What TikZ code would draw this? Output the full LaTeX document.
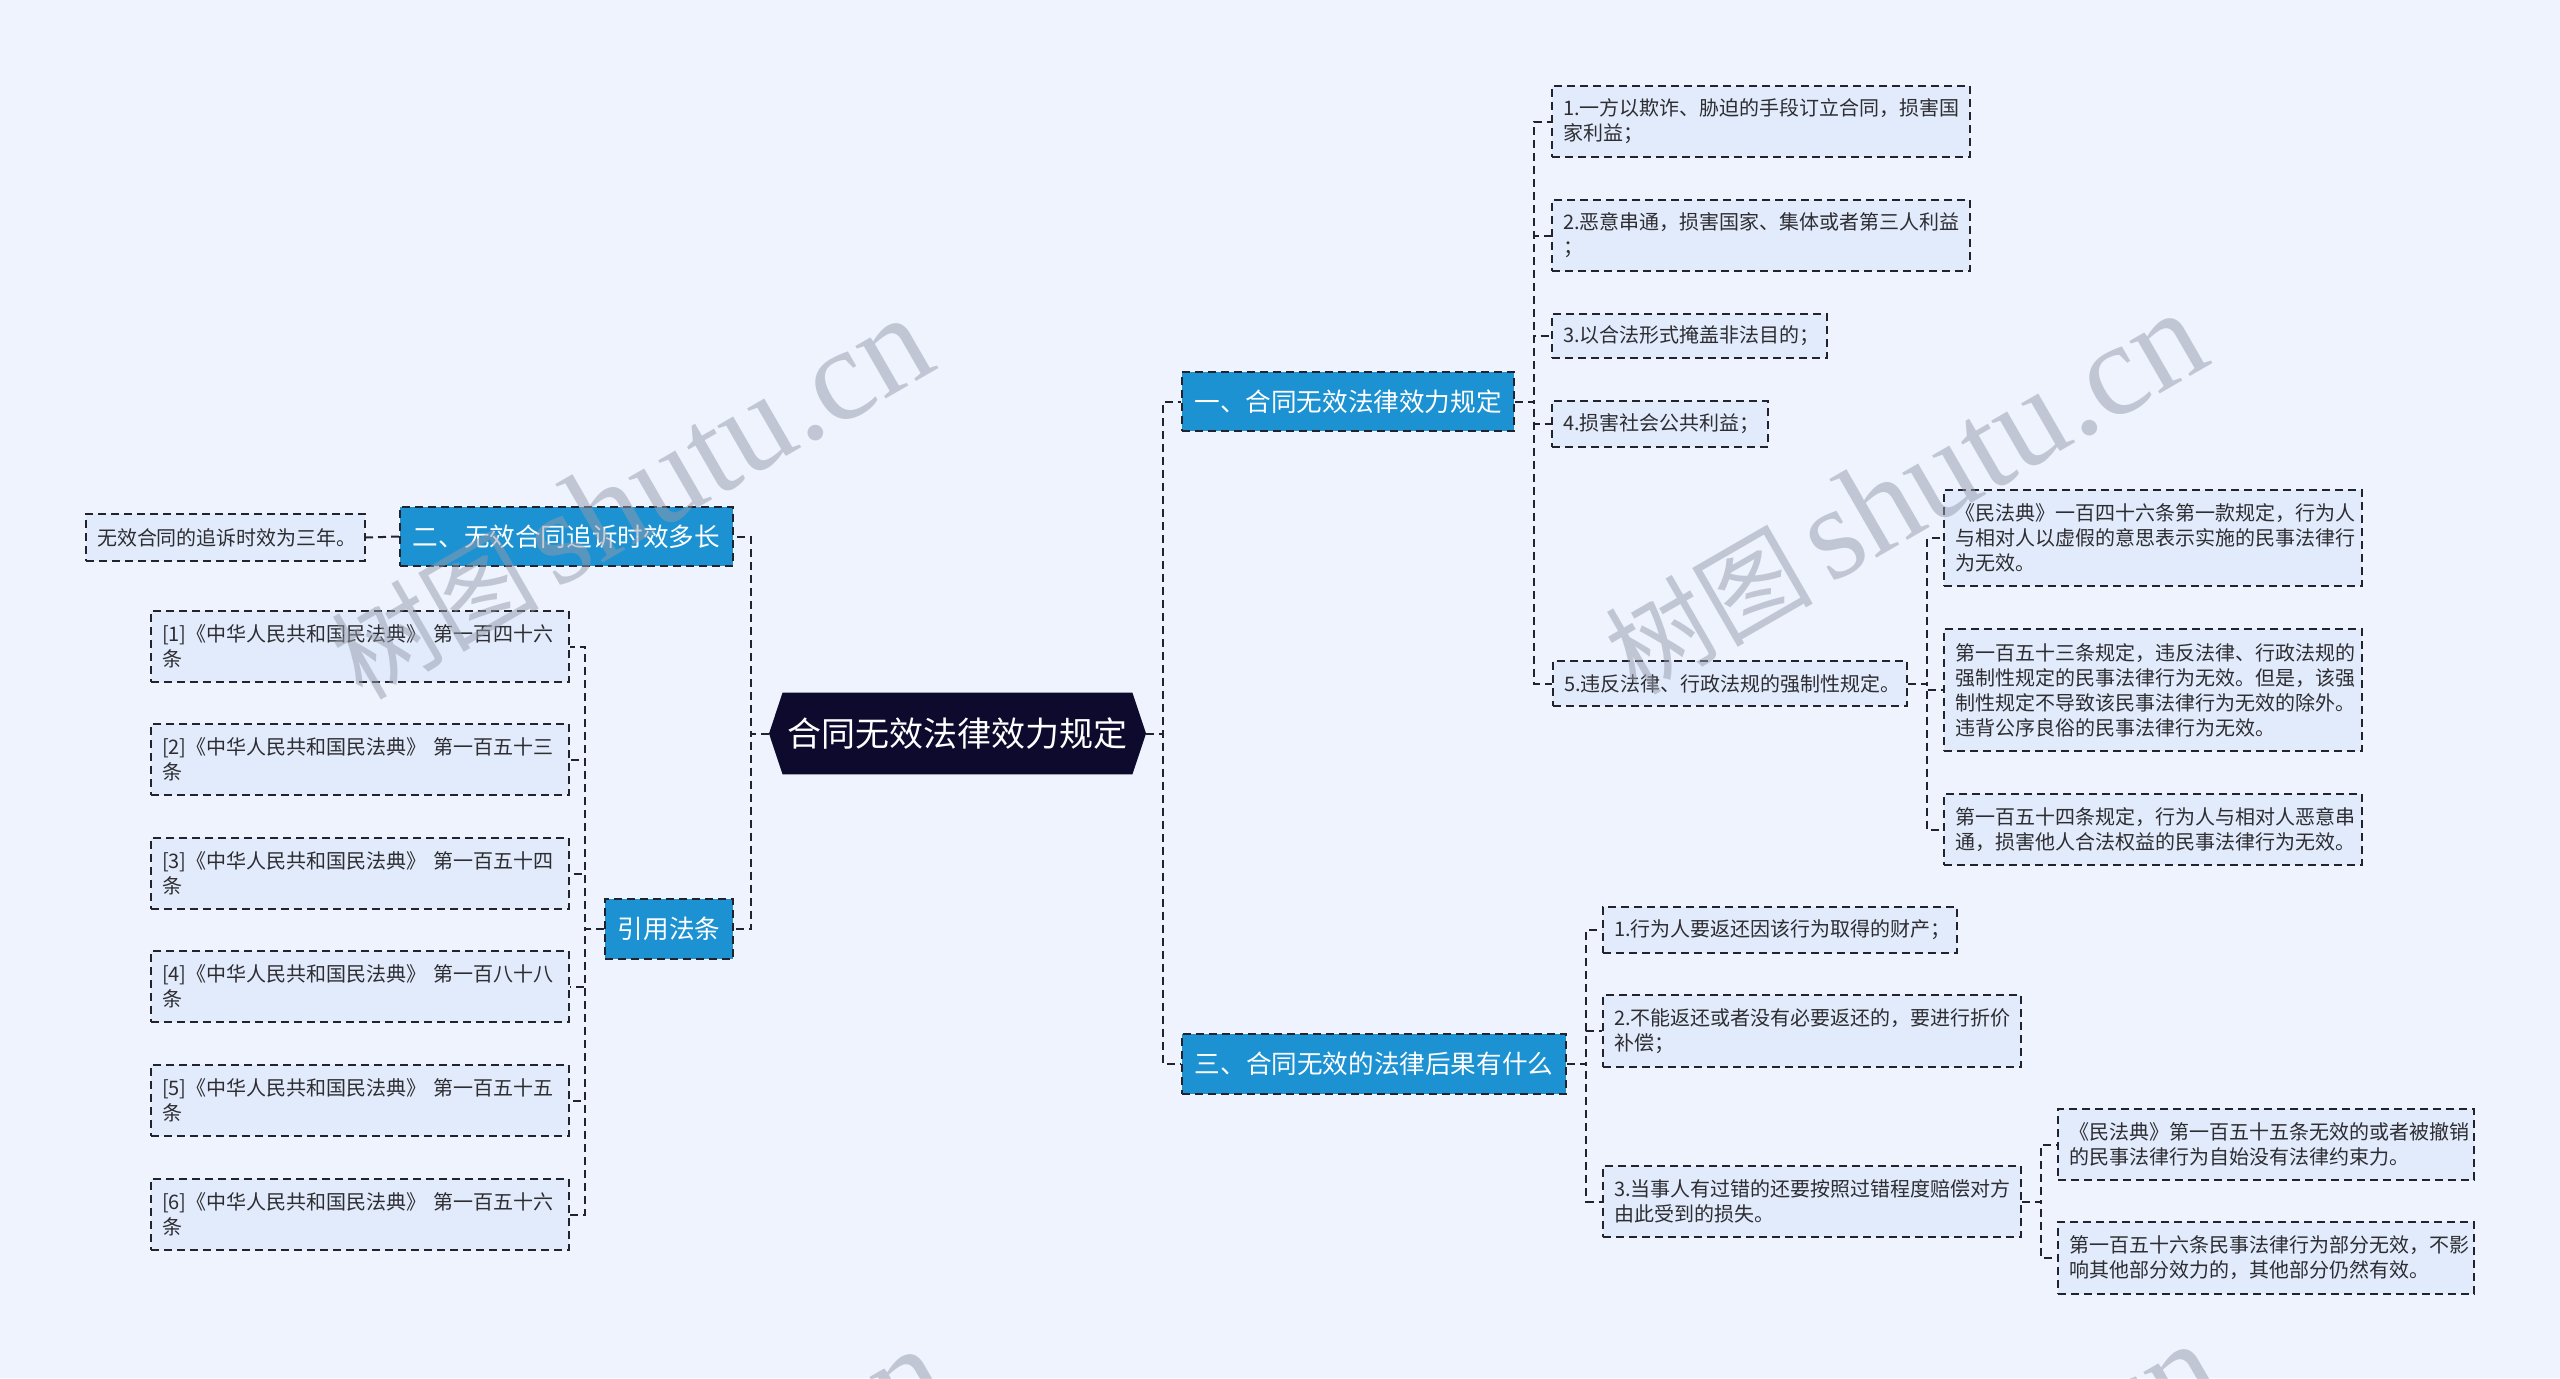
\documentclass[tikz,border=0pt]{standalone}
\usepackage{fontspec}
\setmainfont{Noto Sans CJK SC}
\newfontfamily\wmserif{Liberation Serif}
\usetikzlibrary{backgrounds}
\definecolor{bgC}{RGB}{238,243,254}
\definecolor{leafC}{RGB}{226,235,251}
\definecolor{branchC}{RGB}{28,146,210}
\definecolor{centerC}{RGB}{13,10,46}
\definecolor{lineC}{RGB}{35,35,45}
\definecolor{textC}{RGB}{45,45,50}
\definecolor{wmC}{RGB}{150,155,172}
\begin{document}
\begin{tikzpicture}[x=0.5pt,y=-0.5pt,
  dashline/.style={draw=lineC, line width=1pt, dash pattern=on 4pt off 2.5pt},
  conn/.style={dashline},
  leaf/.style={dashline, fill=leafC, text=textC, font=\fontsize{10}{12.5}\selectfont,
    align=left, inner xsep=5.5pt, inner ysep=0pt, anchor=north west},
  branch/.style={dashline, fill=branchC, text=white, font=\fontsize{12.8}{15}\selectfont,
    inner sep=0pt, align=center},
  wm/.style={text=wmC, text opacity=0.5, anchor=base west, rotate=30, inner sep=0pt}
]
\useasboundingbox (0,0) rectangle (2560,1378);
\begin{scope}[on background layer]
  \fill[bgC] (0,0) rectangle (2560,1378);
\end{scope}

% centre
\coordinate (cL) at (769,733.5);
\coordinate (cR) at (1146,733.5);
\node[inner sep=0pt, minimum width=174.5pt, minimum height=40.5pt, text=white,
  font=\fontsize{17}{20}\selectfont] (C) at (957.5,733.5) {合同无效法律效力规定};
\begin{scope}[on background layer]
  \fill[centerC] (C.north west) -- (cL) -- (C.south west) -- (C.south east) -- (cR) -- (C.north east) -- cycle;
\end{scope}

% main branches
\node[branch, minimum width=166pt, minimum height=29.5pt] (B1) at (1348,401.5) {一、合同无效法律效力规定};
\node[branch, minimum width=166.5pt, minimum height=29.5pt] (B2) at (566.5,536.5) {二、无效合同追诉时效多长};
\node[branch, minimum width=192pt, minimum height=30pt] (B3) at (1374,1064) {三、合同无效的法律后果有什么};
\node[branch, minimum width=64pt, minimum height=30pt] (B4) at (669,929) {引用法条};

% branch 1 leaves
\node[leaf, text width=198pt, minimum height=35.5pt] (L1) at (1551,85) {1.一方以欺诈、胁迫的手段订立合同，损害国\\家利益；};
\node[leaf, text width=198pt, minimum height=35.5pt] (L2) at (1551,199) {2.恶意串通，损害国家、集体或者第三人利益\\；};
\node[leaf, text width=126.5pt, minimum height=22pt] (L3) at (1551,313) {3.以合法形式掩盖非法目的；};
\node[leaf, text width=97pt, minimum height=23pt] (L4) at (1551,400) {4.损害社会公共利益；};
\node[leaf, text width=166pt, minimum height=22.5pt] (L5) at (1552,660) {5.违反法律、行政法规的强制性规定。};
\node[leaf, text width=198pt, minimum height=48pt] (L5a) at (1943,489) {《民法典》一百四十六条第一款规定，行为人\\与相对人以虚假的意思表示实施的民事法律行\\为无效。};
\node[leaf, text width=198pt, minimum height=61pt] (L5b) at (1943,628) {第一百五十三条规定，违反法律、行政法规的\\强制性规定的民事法律行为无效。但是，该强\\制性规定不导致该民事法律行为无效的除外。\\违背公序良俗的民事法律行为无效。};
\node[leaf, text width=198pt, minimum height=35.5pt] (L5c) at (1943,793) {第一百五十四条规定，行为人与相对人恶意串\\通，损害他人合法权益的民事法律行为无效。};

% branch 2 leaf
\node[leaf, text width=128.5pt, minimum height=23.5pt] (N1) at (85,513) {无效合同的追诉时效为三年。};

% branch 3 leaves
\node[leaf, text width=166pt, minimum height=23pt] (M1) at (1602,906) {1.行为人要返还因该行为取得的财产；};
\node[leaf, text width=198pt, minimum height=36pt] (M2) at (1602,994) {2.不能返还或者没有必要返还的，要进行折价\\补偿；};
\node[leaf, text width=198pt, minimum height=35.5pt] (M3) at (1602,1165) {3.当事人有过错的还要按照过错程度赔偿对方\\由此受到的损失。};
\node[leaf, text width=197pt, minimum height=35.5pt] (M3a) at (2057,1108) {《民法典》第一百五十五条无效的或者被撤销\\的民事法律行为自始没有法律约束力。};
\node[leaf, text width=197pt, minimum height=36pt] (M3b) at (2057,1221) {第一百五十六条民事法律行为部分无效，不影\\响其他部分效力的，其他部分仍然有效。};

% citations
\node[leaf, text width=198pt, minimum height=35.5pt] (R1) at (150,610) {[1]《中华人民共和国民法典》~第一百四十六\\条};
\node[leaf, text width=198pt, minimum height=35.5pt] (R2) at (150,723) {[2]《中华人民共和国民法典》~第一百五十三\\条};
\node[leaf, text width=198pt, minimum height=35.5pt] (R3) at (150,837) {[3]《中华人民共和国民法典》~第一百五十四\\条};
\node[leaf, text width=198pt, minimum height=35.5pt] (R4) at (150,950) {[4]《中华人民共和国民法典》~第一百八十八\\条};
\node[leaf, text width=198pt, minimum height=35.5pt] (R5) at (150,1064) {[5]《中华人民共和国民法典》~第一百五十五\\条};
\node[leaf, text width=198pt, minimum height=35.5pt] (R6) at (150,1178) {[6]《中华人民共和国民法典》~第一百五十六\\条};

% connectors
\foreach \t in {B1,B3} \draw[conn] (cR) -- ++(17,0) |- (\t.west);
\foreach \t in {B2,B4} \draw[conn] (cL) -- ++(-18,0) |- (\t.east);
\foreach \t in {L1,L2,L3,L4,L5} \draw[conn] (B1.east) -- ++(19,0) |- (\t.west);
\foreach \t in {L5a,L5b,L5c} \draw[conn] (L5.east) -- ++(19,0) |- (\t.west);
\draw[conn] (B2.west) -- (N1.east);
\foreach \t in {M1,M2,M3} \draw[conn] (B3.east) -- ++(19,0) |- (\t.west);
\foreach \t in {M3a,M3b} \draw[conn] (M3.east) -- ++(19,0) |- (\t.west);
\foreach \t in {R1,R2,R3,R4,R5,R6} \draw[conn] (B4.west) -- ++(-19,0) |- (\t.east);

% watermarks
\begin{scope}
  \clip (0,0) rectangle (2560,1378);
  \foreach \p in {(362,702),(1636,697),(376,1732),(1650,1727)}
    \node[wm] at \p {{\fontsize{52}{52}\selectfont 树图}\hspace{8pt}{\wmserif\fontsize{66}{66}\selectfont shutu.cn}};
\end{scope}
\end{tikzpicture}
\end{document}
